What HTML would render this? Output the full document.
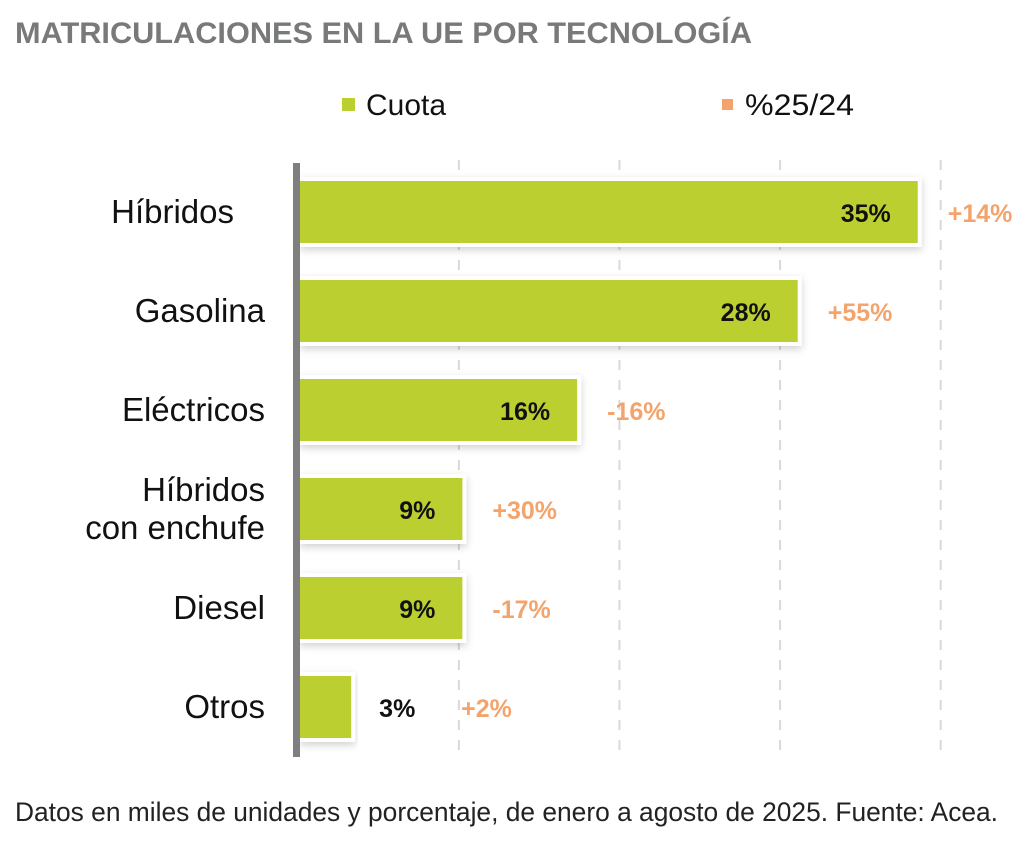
<!DOCTYPE html>
<html><head><meta charset="utf-8"><style>
html,body{margin:0;padding:0;background:#fff;}
svg{display:block;font-family:"Liberation Sans",sans-serif;}
</style></head><body>
<svg id="chart" width="1036" height="864" viewBox="0 0 1036 864">
<defs>
<filter id="sh" x="-5%" y="-30%" width="110%" height="160%">
<feDropShadow dx="0" dy="3" stdDeviation="4" flood-color="#000" flood-opacity="0.18"/>
</filter>
</defs>
<text x="15" y="43" font-size="30" font-weight="bold" fill="#78797b" textLength="737" lengthAdjust="spacingAndGlyphs">MATRICULACIONES EN LA UE POR TECNOLOGÍA</text>
<g>
<rect x="342" y="98" width="13" height="13" fill="#bccf31"/>
<text x="366" y="115" font-size="30" fill="#111" textLength="80" lengthAdjust="spacingAndGlyphs">Cuota</text>
<rect x="722" y="99" width="11" height="11" fill="#f3a46c"/>
<text x="745" y="115" font-size="30" fill="#111" textLength="109" lengthAdjust="spacingAndGlyphs">%25/24</text>
</g>
<g id="grid"></g>
<g id="bars"></g>
<rect x="293" y="163" width="7" height="594" fill="#7f7f7f"/>
<text x="15" y="821" font-size="27" fill="#222" textLength="983" lengthAdjust="spacingAndGlyphs">Datos en miles de unidades y porcentaje, de enero a agosto de 2025. Fuente: Acea.</text>
</svg>
<script>
const categories = [["Híbridos"],["Gasolina"],["Eléctricos"],["Híbridos","con enchufe"],["Diesel"],["Otros"]];
const shares = [35, 28.2, 15.7, 9.2, 9.2, 2.9];
const shareLabels = ["35%","28%","16%","9%","9%","3%"];
const changeLabels = ["+14%","+55%","-16%","+30%","-17%","+2%"];
const gridValues = [9, 18.1, 27.2, 36.3];

const NS = "http://www.w3.org/2000/svg";
const x0 = 300, pxPer = 17.65;
const xScale = v => x0 + v * pxPer;
const yCenter = i => 212 + i * 99;
const barH = 62;
function mk(tag, attrs, parent){const e=document.createElementNS(NS,tag);for(const k in attrs)e.setAttribute(k,attrs[k]);parent.appendChild(e);return e;}

const grid = document.getElementById("grid");
gridValues.forEach(v=>{
  const l = mk("line",{x1:xScale(v),x2:xScale(v),y1:160,y2:752,stroke:"#d9d9d9","stroke-width":2,"stroke-dasharray":"10 10"},grid);
  
  
});

const bars = document.getElementById("bars");
shares.forEach((v,i)=>{
  const cy = yCenter(i);
  const w = xScale(v) - x0;
  const bg = mk("rect",{x:x0,y:cy-barH/2-4,width:w+4,height:barH+8,fill:"#fff",filter:"url(#sh)"},bars);
  
  
  const r = mk("rect",{x:x0,y:cy-barH/2,width:w,height:barH,fill:"#bccf31"},bars);
  
  
  const inside = v >= 6;
  const t = mk("text",{x:inside? xScale(v)-27 : xScale(v)+28,y:cy+10,"font-size":25,"font-weight":"bold",fill:"#111","text-anchor":inside?"end":"start"},bars);
  t.textContent = shareLabels[i];
  
  
  const cx = inside ? xScale(v)+30 : xScale(v)+110;
  const c = mk("text",{x:cx,y:cy+10,"font-size":25,"font-weight":"bold",fill:"#f3a46c"},bars);
  c.textContent = changeLabels[i];
  
  
  const lines = categories[i];
  lines.forEach((s,j)=>{
    const yy = cy + 11 + (j - (lines.length-1)/2) * 38;
    const ct = mk("text",{x: i===0 ? 234 : 265, y:yy,"font-size":33,fill:"#111","text-anchor":"end"},bars);
    ct.textContent = s;
    
    
  });
});
</script>
</body></html>
